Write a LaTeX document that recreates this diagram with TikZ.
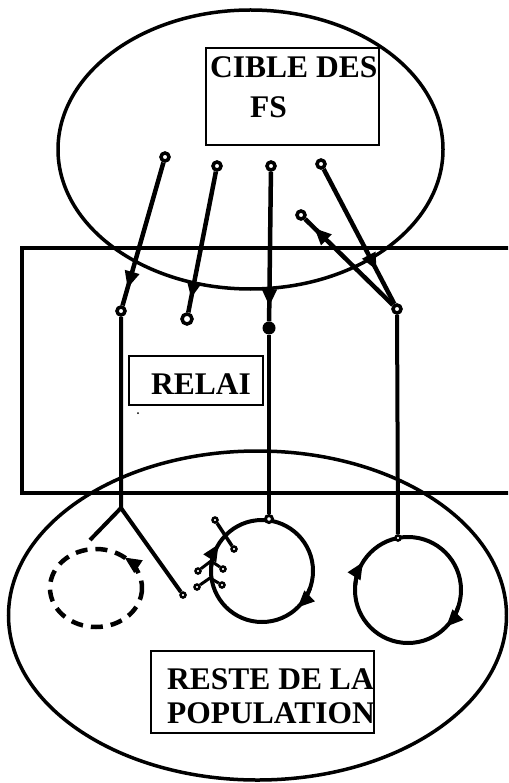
\documentclass[tikz,border=0pt]{standalone}
\usepackage{fontspec}
\setmainfont{Liberation Serif}
\usetikzlibrary{arrows.meta,decorations.markings}

\begin{document}
\begin{tikzpicture}[x=1pt, y=-1pt,
  ring/.style = {circle, draw=black, fill=white, line width=3.5pt, inner sep=0pt, minimum size=#1},
  ring/.default = 8,
  tinyring/.style = {ring=5, line width=2.5pt},
  dot/.style = {circle, fill=black, inner sep=0pt, minimum size=#1},
  box/.style = {draw=black, line width=2pt, inner sep=0pt},
  txt/.style = {font=\fontsize{31.5}{34}\selectfont\bfseries, inner sep=0pt, anchor=base west},
  flow/.style = {line width=4.5pt, postaction={decorate}, decoration={markings,
      mark=at position #1 with {\arrow{Triangle[length=17pt,width=14pt]}}}},
  orbit/.style = {line width=4pt},
  arrowarc/.style = {line width=4pt, -{Triangle[length=17pt,width=14pt]}}]
\clip (0,0) rectangle (508,783);
% the three zones
\draw[line width=3.5pt] (250.5,149.5) ellipse [x radius=192.5, y radius=139.5];
\draw[line width=3.5pt] (22,248) rectangle (530,493);
\draw[line width=3.5pt] (257.5,615.5) ellipse [x radius=249, y radius=164.5];

% labels
\node[box, minimum width=173, minimum height=97, anchor=north west] (cible) at (205,47) {};
\node[txt] (cibleA) at (210,78) {CIBLE DES};
\node[txt] (cibleB) at (250,118) {FS};
\node[box, minimum width=134, minimum height=49, anchor=north west] (relai) at (128,355) {};
\node[txt] (relaiT) at (151,394) {RELAI};
\node[box, minimum width=223, minimum height=82, anchor=north west] (reste) at (150,650) {};
\node[txt] (resteA) at (167,689) {RESTE DE LA};
\node[txt] (resteB) at (167,723) {POPULATION};
\node[dot=2] (speck) at (138,413) {};

% sources in the target
\node[ring] (s1) at (165,157) {};
\node[ring] (s2) at (217,166) {};
\node[ring] (s3) at (271,166) {};
\node[ring] (s4) at (321,164) {};
\node[ring] (s5) at (301,215) {};
% relays
\node[ring] (r1) at (121,311) {};
\node[ring=10] (r2) at (187,319) {};
\node[dot=13] (r3) at (269,328) {};
\node[ring] (r4) at (397,309) {};

\draw[flow=0.88] (s1) -- (r1);
\draw[flow=0.9] (s2) -- (r2);
\draw[flow=0.9] (s3) -- (r3);
\draw[flow=0.75] (s4) -- (r4);
\draw[flow=0.9] (r4) -- (s5);

% loops in the rest of the population
\coordinate (c1) at (96,588);
\coordinate (c2) at (262,571);
\coordinate (c3) at (408,590);
\draw[line width=4.5pt, dash pattern=on 12pt off 8pt] (c1) ellipse [x radius=46, y radius=39];
\draw[arrowarc, line width=4.5pt] (c1) ++(-28:46 and 39) arc[start angle=-28, end angle=-52, x radius=46, y radius=39];
\draw[orbit] (c2) circle [radius=51];
\draw[arrowarc] (c2) ++(20:51) arc[start angle=20, end angle=46, radius=51];
\draw[arrowarc] (c2) ++(185:51) arc[start angle=185, end angle=212, radius=51];
\draw[orbit] (c3) circle [radius=53];
\draw[arrowarc] (c3) ++(18:53) arc[start angle=18, end angle=44, radius=53];
\draw[arrowarc] (c3) ++(185:53) arc[start angle=185, end angle=212, radius=53];

\node[ring=7, line width=3pt] (top2) at (269,519) {};
\node[tinyring] (top3) at (398,538) {};
\draw[line width=4pt] (r3) -- (top2);
\draw[line width=4pt] (r4) -- (top3);

% fork under the first relay
\coordinate (fork) at (121,508);
\coordinate (forkL) at (90,540);
\node[tinyring] (forkR) at (183,595) {};
\draw[line width=4pt] (r1) -- (fork) -- (forkL);
\draw[line width=4pt] (fork) -- (forkR);

% branches on the middle loop
\node[tinyring] (x1) at (215,520) {};
\node[tinyring] (x2) at (234,549) {};
\draw[line width=3.5pt] (x1) -- (x2);
\coordinate (j1) at (211,561);
\coordinate (j2) at (210,578);
\node[tinyring] (b1) at (198,571) {};
\node[tinyring] (b2) at (223,569) {};
\node[tinyring] (b3) at (197,587) {};
\node[tinyring] (b4) at (222,585) {};
\draw[line width=3pt] (b1) -- (j1) -- (b2);
\draw[line width=3pt] (b3) -- (j2) -- (b4);
\end{tikzpicture}
\end{document}
